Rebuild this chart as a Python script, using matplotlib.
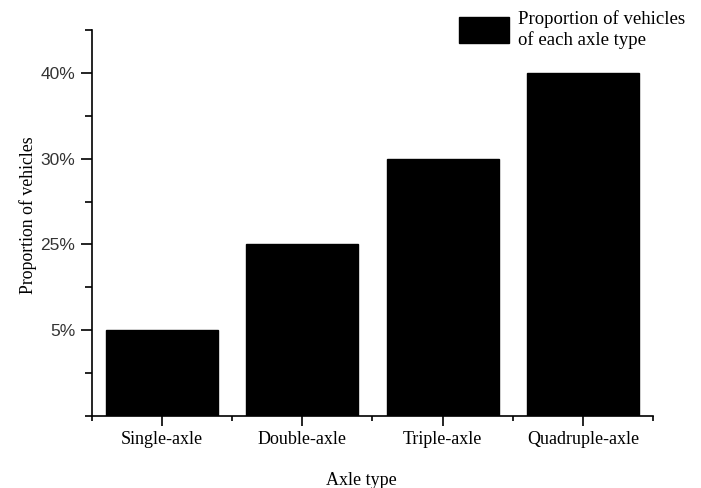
import matplotlib.pyplot as plt
from matplotlib.ticker import FixedLocator, MultipleLocator

# Data
axle_types = ["Single-axle", "Double-axle", "Triple-axle", "Quadruple-axle"]
proportions = [5, 25, 30, 40]  # %
# the y axis of the original is ordinal: each level gets one equal step
levels = sorted(proportions)
level_labels = [f"{v}%" for v in levels]

serif = "Liberation Serif"
sans = "Liberation Sans"

fig = plt.figure(figsize=(7.01, 4.88), dpi=100)
ax = fig.add_axes([0.1312, 0.1475, 0.8003, 0.791])

xs = list(range(1, len(axle_types) + 1))
heights = [levels.index(p) + 1 for p in proportions]
ax.bar(xs, heights, width=0.8, color="black", edgecolor="black",
       label="Proportion of vehicles\nof each axle type")

ax.set_xlim(0.5, 4.5)
ax.set_ylim(0, 4.5)

ax.set_xticks(xs)
ax.set_xticklabels(axle_types, family=serif, fontsize=13)
ax.xaxis.set_minor_locator(FixedLocator([0.5, 1.5, 2.5, 3.5, 4.5]))
ax.set_yticks(range(1, len(levels) + 1))
ax.set_yticklabels(level_labels, family=sans, fontsize=12.5, color="#333333")
ax.yaxis.set_minor_locator(MultipleLocator(0.5))

ax.tick_params(axis="x", which="major", direction="out", length=7, width=1.2, pad=4)
ax.tick_params(axis="x", which="minor", direction="out", length=3.5, width=1.2)
ax.tick_params(axis="y", which="major", direction="out", length=8, width=1.2, pad=4)
ax.tick_params(axis="y", which="minor", direction="out", length=5, width=1.2)

for side in ("top", "right"):
    ax.spines[side].set_visible(False)
for side in ("left", "bottom"):
    ax.spines[side].set_linewidth(1.2)

ax.set_xlabel("Axle type", family=serif, fontsize=13)
ax.xaxis.set_label_coords(0.481, -0.145)
ax.set_ylabel("Proportion of vehicles", family=serif, fontsize=12.8)
ax.yaxis.set_label_coords(-0.098, 0.52)

leg = ax.legend(loc="upper left", bbox_to_anchor=(459 / 701, 1 - 10 / 488),
                bbox_transform=fig.transFigure, frameon=False,
                prop={"family": serif, "size": 13.5}, handlelength=2.67,
                handleheight=1.75, handletextpad=0.45, labelspacing=0,
                borderpad=0, borderaxespad=0)

fig.savefig("out.png", dpi=100)
